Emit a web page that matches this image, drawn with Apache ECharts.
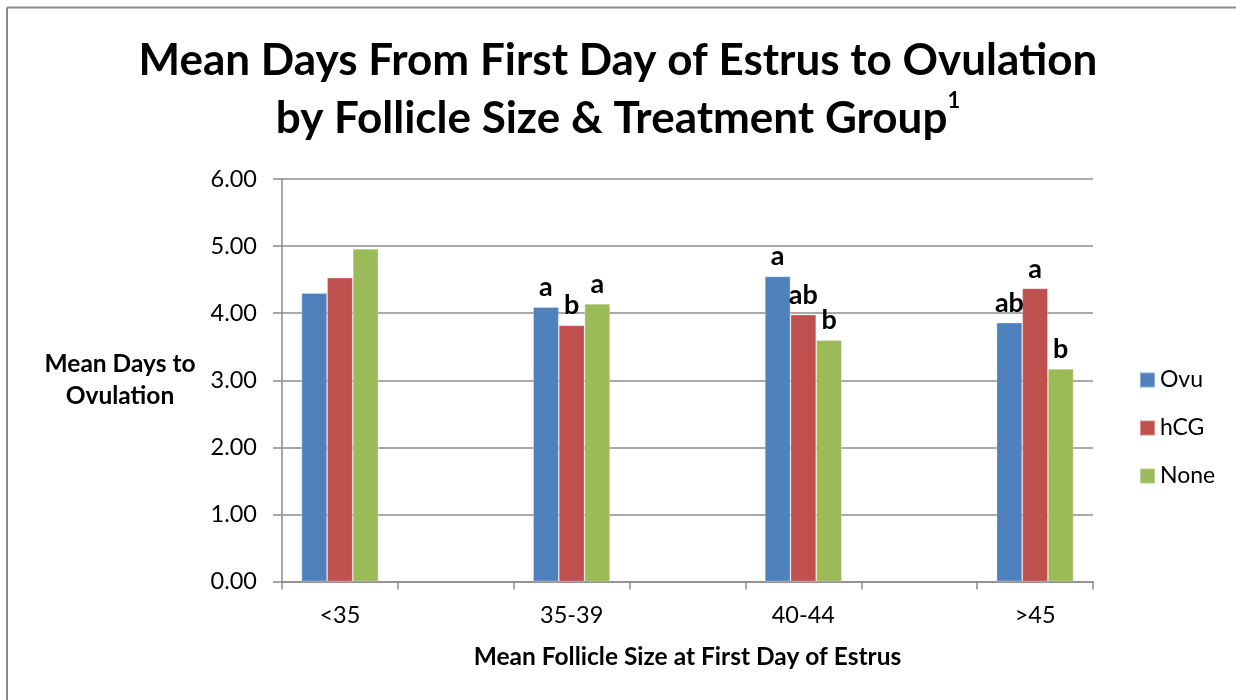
<!DOCTYPE html>
<html>
<head>
<meta charset="utf-8">
<title>Mean Days From First Day of Estrus to Ovulation</title>
<script src="https://cdn.jsdelivr.net/npm/echarts@6/dist/echarts.min.js"></script>
<style>
  html, body { margin: 0; padding: 0; background: #ffffff; overflow: hidden; }
  #chart { width: 1236px; height: 700px; }
</style>
</head>
<body>
<div id="chart"></div>
<script>
// Follicle-size groups (x axis)
const categories = ['<35', '35-39', '40-44', '>45'];

// Mean days from first day of estrus to ovulation, per treatment
const ovu  = [4.30, 4.09, 4.55, 3.86];
const hcg  = [4.53, 3.82, 3.98, 4.37];
const none = [4.96, 4.14, 3.60, 3.17];

// Significance letters shown above each bar
const ovuLetters  = ['', 'a', 'a', 'ab'];
const hcgLetters  = ['', 'b', 'ab', 'a'];
const noneLetters = ['', 'a', 'b', 'b'];

const yTicks = [0, 1, 2, 3, 4, 5, 6];

// The axis puts an empty slot between neighbouring groups
const slotCats = [];
categories.forEach((c, i) => {
  slotCats.push(c);
  if (i < categories.length - 1) slotCats.push('');
});
function spread(arr) {
  const out = [];
  arr.forEach((v, i) => {
    out.push(v);
    if (i < arr.length - 1) out.push(null);
  });
  return out;
}
function spreadLetters(arr) {
  const out = [];
  arr.forEach((v, i) => {
    out.push(v);
    if (i < arr.length - 1) out.push('');
  });
  return out;
}

const FONT = 'Lato, "Open Sans", sans-serif';
const GRID_COLOR = '#8c8c8c';
const FRAME_COLOR = '#8a8a8a';

function makeSeries(name, values, letters, color) {
  const lab = spreadLetters(letters);
  return {
    name: name,
    type: 'bar',
    data: spread(values),
    barGap: '0%',
    barCategoryGap: '33.5%',
    itemStyle: { color: color, borderColor: 'rgba(255,255,255,0.35)', borderWidth: 0.8 },
    label: {
      show: true,
      position: 'top',
      distance: 6,
      fontFamily: FONT,
      fontWeight: 'bold',
      fontSize: 27,
      color: '#000000',
      formatter: p => lab[p.dataIndex] || ''
    },
    emphasis: { disabled: true }
  };
}

const chart = echarts.init(document.getElementById('chart'), null, { renderer: 'canvas' });

chart.setOption({
  animation: false,
  backgroundColor: '#ffffff',
  textStyle: { fontFamily: FONT },
  title: {
    left: 'center',
    top: 27,
    text: '{t|Mean Days From First Day of Estrus to Ovulation}\n{t|by Follicle Size & Treatment Group}{sup|1}',
    textStyle: {
      rich: {
        t: { fontFamily: FONT, fontWeight: 'bold', fontSize: 44, color: '#000000', lineHeight: 58 },
        sup: { fontFamily: FONT, fontWeight: 'bold', fontSize: 22, color: '#000000', lineHeight: 58, verticalAlign: 'top', padding: [0, 0, 20, 0] }
      }
    }
  },
  legend: {
    orient: 'vertical',
    left: 1134,
    top: 363,
    itemWidth: 15,
    itemHeight: 15,
    itemGap: 24,
    icon: 'rect',
    textStyle: { fontFamily: FONT, fontSize: 23, color: '#000000', lineHeight: 24, padding: [0, 0, 0, 0] },
    data: ['Ovu', 'hCG', 'None']
  },
  grid: {
    left: 282,
    right: 143,
    top: 179,
    bottom: 118.5,
    containLabel: false
  },
  xAxis: {
    type: 'category',
    data: slotCats,
    boundaryGap: true,
    name: 'Mean Follicle Size at First Day of Estrus',
    nameLocation: 'middle',
    nameGap: 63,
    nameTextStyle: { fontFamily: FONT, fontWeight: 'bold', fontSize: 24.5, color: '#000000' },
    axisLine: { show: true, lineStyle: { color: GRID_COLOR, width: 1.5 } },
    axisTick: { show: true, length: 8, interval: 0, lineStyle: { color: GRID_COLOR, width: 1.5 } },
    axisLabel: { interval: 0, margin: 22, fontFamily: FONT, fontSize: 23.5, color: '#000000' },
    splitLine: { show: false }
  },
  yAxis: {
    type: 'value',
    min: yTicks[0],
    max: yTicks[yTicks.length - 1],
    interval: 1,
    name: 'Mean Days to\nOvulation',
    nameLocation: 'middle',
    nameRotate: 0,
    nameGap: 162,
    nameTextStyle: { fontFamily: FONT, fontWeight: 'bold', fontSize: 24.5, color: '#000000', lineHeight: 32, align: 'center' },
    axisLine: { show: true, lineStyle: { color: GRID_COLOR, width: 1.5 } },
    axisTick: { show: true, length: 9, lineStyle: { color: GRID_COLOR, width: 1.5 } },
    axisLabel: { margin: 25, fontFamily: FONT, fontSize: 23.5, color: '#000000', formatter: v => v.toFixed(2) },
    splitLine: { show: true, lineStyle: { color: GRID_COLOR, width: 1.5 } }
  },
  // Outer frame: only the top and left edges fall inside the view
  graphic: [
    {
      type: 'line',
      shape: { x1: 7, y1: 7.5, x2: 1236, y2: 7.5 },
      style: { stroke: FRAME_COLOR, lineWidth: 2 },
      silent: true
    },
    {
      type: 'line',
      shape: { x1: 7, y1: 7.5, x2: 7, y2: 700 },
      style: { stroke: FRAME_COLOR, lineWidth: 2 },
      silent: true
    }
  ],
  series: [
    makeSeries('Ovu', ovu, ovuLetters, '#4F81BD'),
    makeSeries('hCG', hcg, hcgLetters, '#C0504D'),
    makeSeries('None', none, noneLetters, '#9BBB59')
  ]
});
</script>
</body>
</html>
